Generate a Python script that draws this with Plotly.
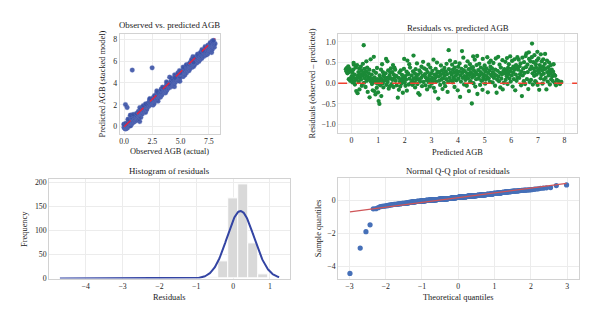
import numpy as np
import plotly.graph_objects as go
from statistics import NormalDist

# Predicted AGB from the stacked model, grouped by prediction range
pred_agb = [
    # -0.25 .. 0.25
    -0.21, -0.19, -0.17, -0.15, -0.13, -0.12, -0.10, -0.09, -0.07, -0.05, -0.04, -0.02, 0.00, 0.01, 0.03, 0.04,
    0.06, 0.07, 0.09, 0.10, 0.12, 0.13, 0.15, 0.16, 0.18, 0.19, 0.21, 0.22, 0.23, 0.24, 0.08,
    # 0.25 .. 0.75
    0.26, 0.27, 0.29, 0.30, 0.32, 0.33, 0.35, 0.36, 0.38, 0.39, 0.41, 0.43, 0.44, 0.46, 0.47, 0.49,
    0.50, 0.52, 0.53, 0.55, 0.56, 0.58, 0.59, 0.61, 0.62, 0.64, 0.65, 0.67, 0.68, 0.70, 0.72, 0.73,
    # 0.75 .. 1.25
    0.76, 0.77, 0.79, 0.80, 0.82, 0.83, 0.84, 0.86, 0.87, 0.89, 0.90, 0.92, 0.93, 0.95, 0.96, 0.97, 0.99,
    1.00, 1.02, 1.03, 1.05, 1.06, 1.08, 1.09, 1.11, 1.12, 1.14, 1.15, 1.17, 1.18, 1.20, 1.21, 1.23, 1.24,
    # 1.25 .. 1.75
    1.26, 1.28, 1.30, 1.31, 1.33, 1.35, 1.36, 1.38, 1.40, 1.41, 1.43, 1.44, 1.46, 1.48,
    1.49, 1.51, 1.53, 1.54, 1.56, 1.58, 1.59, 1.61, 1.63, 1.64, 1.66, 1.68, 1.70, 1.74,
    # 1.75 .. 2.25
    1.77, 1.78, 1.80, 1.82, 1.83, 1.85, 1.87, 1.88, 1.90, 1.92, 1.93, 1.95, 1.97, 1.98,
    2.00, 2.02, 2.03, 2.05, 2.07, 2.08, 2.10, 2.12, 2.13, 2.15, 2.17, 2.18, 2.20, 2.23,
    # 2.25 .. 2.75
    2.26, 2.28, 2.29, 2.31, 2.33, 2.34, 2.36, 2.38, 2.39, 2.41, 2.43, 2.44, 2.46, 2.48,
    2.50, 2.51, 2.53, 2.55, 2.56, 2.58, 2.60, 2.62, 2.63, 2.65, 2.67, 2.69, 2.71, 2.73,
    # 2.75 .. 3.25
    2.76, 2.78, 2.79, 2.81, 2.83, 2.84, 2.86, 2.88, 2.89, 2.91, 2.93, 2.94, 2.96, 2.98, 2.99,
    3.01, 3.03, 3.04, 3.06, 3.08, 3.09, 3.11, 3.13, 3.14, 3.16, 3.18, 3.19, 3.21, 3.22, 3.24,
    # 3.25 .. 3.75
    3.26, 3.28, 3.29, 3.31, 3.33, 3.35, 3.36, 3.38, 3.40, 3.42, 3.43, 3.45, 3.47, 3.49,
    3.50, 3.52, 3.54, 3.56, 3.57, 3.59, 3.61, 3.63, 3.65, 3.66, 3.68, 3.70, 3.72, 3.74,
    # 3.75 .. 4.25
    3.76, 3.78, 3.80, 3.81, 3.83, 3.85, 3.87, 3.88, 3.90, 3.92, 3.94, 3.95, 3.97, 3.99, 4.01,
    4.02, 4.04, 4.06, 4.08, 4.09, 4.11, 4.13, 4.15, 4.16, 4.18, 4.20, 4.21, 4.23, 4.24, 3.86,
    # 4.25 .. 4.75
    4.26, 4.28, 4.29, 4.31, 4.33, 4.35, 4.36, 4.38, 4.40, 4.41, 4.43, 4.45, 4.47, 4.48, 4.50, 4.52,
    4.53, 4.55, 4.57, 4.58, 4.60, 4.62, 4.63, 4.65, 4.67, 4.68, 4.70, 4.72, 4.73, 4.74, 4.46, 4.56,
    # 4.75 .. 5.25
    4.76, 4.78, 4.80, 4.81, 4.83, 4.85, 4.86, 4.88, 4.90, 4.92, 4.93, 4.95, 4.97, 4.98, 5.00, 5.02,
    5.03, 5.05, 5.07, 5.08, 5.10, 5.12, 5.13, 5.15, 5.17, 5.18, 5.20, 5.22, 5.23, 5.24, 4.91,
    # 5.25 .. 5.75
    5.26, 5.28, 5.30, 5.31, 5.33, 5.35, 5.37, 5.39, 5.40, 5.42, 5.44, 5.45, 5.47, 5.49,
    5.51, 5.52, 5.54, 5.56, 5.58, 5.59, 5.61, 5.63, 5.65, 5.67, 5.68, 5.70, 5.72, 5.74,
    # 5.75 .. 6.25
    5.76, 5.78, 5.79, 5.81, 5.83, 5.84, 5.86, 5.88, 5.90, 5.91, 5.93, 5.95, 5.96, 5.98, 6.00, 6.02,
    6.03, 6.05, 6.07, 6.08, 6.10, 6.12, 6.13, 6.15, 6.17, 6.18, 6.20, 6.22, 6.23, 6.24, 5.87,
    # 6.25 .. 6.75
    6.26, 6.28, 6.30, 6.31, 6.33, 6.35, 6.37, 6.38, 6.40, 6.42, 6.43, 6.45, 6.47, 6.48, 6.50,
    6.52, 6.54, 6.55, 6.57, 6.59, 6.61, 6.62, 6.64, 6.66, 6.67, 6.69, 6.71, 6.72, 6.74,
    # 6.75 .. 7.25
    6.76, 6.77, 6.78, 6.80, 6.81, 6.83, 6.84, 6.86, 6.87, 6.89, 6.90, 6.92, 6.93, 6.95, 6.96, 6.98, 6.99,
    7.01, 7.02, 7.04, 7.05, 7.07, 7.08, 7.10, 7.11, 7.13, 7.14, 7.16, 7.17, 7.19, 7.20, 7.22, 7.23, 7.24, 6.94,
    # 7.25 .. 7.90
    7.26, 7.27, 7.29, 7.30, 7.32, 7.34, 7.35, 7.37, 7.39, 7.40, 7.42, 7.44, 7.45,
    7.47, 7.49, 7.50, 7.52, 7.54, 7.55, 7.57, 7.59, 7.61, 7.63, 7.65, 7.68, 7.71,
    7.78, 7.83, 7.88,
    # poorly predicted plots
    1.75, 2.02, 5.17, 5.38,
]

# Residuals (observed - predicted), same order as pred_agb
residuals = [
    0.34, 0.29, 0.37, 0.24, 0.31, 0.41, 0.10, 0.27, 0.35, 0.06, 0.12, 0.30, 0.08, 0.17, 0.26, 0.02,
    0.14, 0.33, 0.45, 0.05, 0.21, -0.03, 0.11, 0.38, -0.19, 0.09, 0.44, 0.13, -0.24, 0.18, 0.49,

    0.27, 0.03, 0.36, -0.15, 0.14, 0.22, 0.40, 0.09, 0.31, -0.06, 0.18, 0.47, 0.25, 0.92, 0.01, 0.35,
    0.12, 0.20, -0.09, 0.29, 0.53, 0.06, 0.38, -0.21, 0.16, 0.10, 0.24, 0.33, -0.34, 0.13, 0.58, 0.04,

    0.21, -0.02, 0.11, -0.17, 0.05, 0.30, 0.64, -0.19, 0.14, 0.02, -0.27, 0.25, 0.07, -0.11, 0.37, -0.01, 0.10,
    -0.22, -0.43, 0.04, -0.50, 0.19, -0.05, 0.12, 0.33, -0.31, 0.08, 0.46, 0.00, 0.27, -0.10, 0.17, 0.22, 0.06,

    0.09, 0.24, 0.59, -0.04, 0.13, 0.53, 0.03, 0.31, -0.13, 0.11, 0.19, -0.07, 0.26, 0.36,
    0.12, -0.02, 0.27, 0.08, 0.44, -0.09, 0.21, 0.38, 0.14, 0.33, 0.06, 0.18, -0.05, -0.35,

    0.13, -0.16, 0.26, 0.04, -0.08, 0.31, 0.10, -0.01, 0.20, 0.07, -0.23, 0.12, 0.35, 0.59,
    0.02, 0.17, -0.06, 0.09, 0.28, -0.18, 0.55, 0.24, 0.22, -0.03, 0.46, 0.11, 0.38, 0.00,

    0.19, 0.06, -0.04, 0.29, 0.67, 0.12, 0.01, 0.24, -0.10, 0.34, 0.08, 0.17, 0.48, -0.02,
    0.21, -0.24, 0.10, 0.31, -0.28, 0.04, 0.26, 0.13, 0.40, -0.07, 0.18, 0.52, 0.03, 0.36,

    0.22, -0.05, 0.14, 0.33, 0.07, -0.15, 0.27, 0.11, 0.45, 0.02, 0.19, -0.08, 0.38, 0.09, 0.24,
    -0.01, 0.13, 0.30, 0.05, 0.57, -0.11, 0.21, 0.12, -0.20, 0.35, 0.04, 0.17, 0.50, 0.25, 0.28,

    -0.37, 0.16, 0.06, 0.27, -0.04, 0.20, 0.43, 0.09, 0.31, -0.14, 0.12, 0.24, 0.01, 0.37,
    0.18, -0.07, 0.29, 0.10, 0.47, 0.22, -0.21, 0.03, 0.80, 0.34, 0.13, 0.55, 0.26, 0.07,

    0.21, 0.45, 0.02, 0.33, 0.14, 0.26, -0.09, 0.38, 0.51, 0.18, 0.07, 0.30, 0.23, -0.17, 0.40,
    0.11, 0.28, 0.48, -0.33, 0.19, 0.04, 0.35, 0.78, 0.25, 0.13, 0.62, 0.32, -0.03, 0.17, 0.09,

    0.29, 0.08, 0.41, 0.16, -0.06, 0.24, 0.53, 0.12, 0.34, -0.19, 0.20, 0.46, 0.05, 0.27, 0.37, -0.49,
    0.14, 0.22, 0.65, 0.00, 0.31, 0.18, 0.57, -0.08, 0.26, 0.10, 0.44, 0.66, -0.26, 0.21, 0.03, 0.39,

    0.32, 0.11, 0.47, 0.19, -0.04, 0.27, 0.38, 0.06, 0.23, -0.16, 0.59, 0.14, 0.34, 0.20, 0.43, -0.01,
    0.29, 0.09, 0.36, 0.17, 0.63, -0.22, 0.25, 0.12, 0.50, 0.31, 0.04, 0.40, 0.55, 0.21, 0.07,

    0.18, 0.36, 0.02, 0.27, 0.49, 0.13, 0.22, -0.06, 0.33, 0.60, 0.19, -0.23, 0.09, 0.30,
    0.64, 0.16, 0.05, 0.45, 0.25, -0.10, 0.38, 0.11, 0.21, 0.56, -0.15, 0.28, 0.01, 0.34,

    0.24, 0.52, 0.08, 0.31, 0.17, 0.61, -0.02, 0.37, 0.22, 0.46, 0.12, 0.29, 0.65, 0.04, 0.35, 0.19,
    0.54, -0.08, 0.26, 0.40, 0.10, 0.58, 0.33, -0.17, 0.21, 0.44, 0.06, 0.38, 0.63, 0.14, 0.27,

    0.33, 0.57, 0.13, 0.41, 0.22, 0.48, -0.05, 0.29, -0.31, 0.62, 0.19, 0.36, 0.05, 0.51, 0.25,
    -0.02, 0.66, 0.39, 0.72, 0.10, 0.45, 0.27, -0.14, 0.75, 0.59, 0.03, 0.34, 0.53, 0.08,

    0.40, 0.63, 0.96, 0.24, -0.03, 0.51, 0.35, 0.18, 0.68, 0.29, 0.05, 0.46, 0.38, 0.21, 0.55, 0.76, -0.04,
    0.32, 0.60, 0.26, -0.16, 0.44, 0.37, 0.12, 0.70, 0.20, 0.53, 0.31, -0.01, 0.40, 0.58, 0.23, 0.09, 0.34, 0.02,

    0.47, 0.71, 0.13, 0.36, -0.15, 0.55, 0.27, 0.04, 0.39, 0.19, 0.50, 0.31, -0.03,
    0.24, 0.44, 0.10, 0.33, 0.17, 0.06, 0.28, 0.46, 0.21, 0.01, 0.18, -0.05, 0.08,
    0.05, -0.02, 0.03,

    -1.48, -1.90, -4.45, -2.90,
]

titles = ["Observed vs. predicted AGB", "Residuals vs. predicted AGB",
          "Histogram of residuals", "Normal Q-Q plot of residuals"]
x_labels = ["Observed AGB (actual)", "Predicted AGB", "Residuals", "Theoretical quantiles"]
y_labels = ["Predicted AGB (stacked model)", "Residuals (observed \u2013 predicted)",
            "Frequency", "Sample quantiles"]

N_BINS = 20
KDE_BW = 0.29

FONT = "Liberation Serif"
W, H = 600, 327

pred = np.array(pred_agb)
resid = np.array(residuals)
observed = pred + resid
n = len(resid)

# histogram of residuals
edges = np.linspace(resid.min(), resid.max(), N_BINS + 1)
counts, _ = np.histogram(resid, bins=edges)
bin_w = edges[1] - edges[0]
centers = 0.5 * (edges[:-1] + edges[1:])

# gaussian kernel density, scaled to histogram counts
grid = np.linspace(resid.min() - 0.25, resid.max() + 0.29, 400)
dens = np.exp(-0.5 * ((grid[:, None] - resid[None, :]) / KDE_BW) ** 2).sum(axis=1)
dens = dens / (n * KDE_BW * np.sqrt(2 * np.pi))
kde_counts = dens * n * bin_w

# normal probability plot (Filliben plotting positions) + least-squares line
ordered = np.sort(resid)
pp = (np.arange(1, n + 1) - 0.3175) / (n + 0.365)
pp[-1] = 0.5 ** (1.0 / n)
pp[0] = 1 - pp[-1]
theo = np.array([NormalDist().inv_cdf(p) for p in pp])
slope, intercept = np.polyfit(theo, ordered, 1)
line_x = np.array([theo.min(), theo.max()])
line_y = slope * line_x + intercept

# 1:1 reference line for observed vs predicted
lo = min(observed.min(), pred.min())
hi = max(observed.max(), pred.max())
diag = np.array([max(lo, 0.0), hi])

fig = go.Figure()

fig.add_trace(go.Scatter(x=observed, y=pred, mode="markers", xaxis="x", yaxis="y",
                         marker=dict(color="#3a52a6", size=4.8, opacity=0.9,
                                     line=dict(width=0.3, color="#6f82c4"))))
fig.add_trace(go.Scatter(x=diag, y=diag, mode="lines", xaxis="x", yaxis="y",
                         line=dict(color="#e8203e", width=1.4, dash="dash")))

fig.add_trace(go.Scatter(x=pred, y=resid, mode="markers", xaxis="x2", yaxis="y2",
                         marker=dict(color="#1b8a37", size=4.3)))

fig.add_trace(go.Bar(x=centers, y=counts, width=bin_w, xaxis="x3", yaxis="y3",
                     marker=dict(color="#d9d9d9", line=dict(color="white", width=1))))
fig.add_trace(go.Scatter(x=grid, y=kde_counts, mode="lines", xaxis="x3", yaxis="y3",
                         line=dict(color="#3344a3", width=2)))

fig.add_trace(go.Scatter(x=theo, y=ordered, mode="markers", xaxis="x4", yaxis="y4",
                         marker=dict(color="#4670b8", size=5.2)))
fig.add_trace(go.Scatter(x=line_x, y=line_y, mode="lines", xaxis="x4", yaxis="y4",
                         line=dict(color="#cf5558", width=1.4)))

# zero line on the residual panel
fig.add_shape(type="line", xref="x2 domain", yref="y2", x0=0, x1=1, y0=0, y1=0,
              line=dict(color="#f0402f", width=1.4, dash="dash"))


def px_x(p):
    return p / W


def px_y(p):
    return 1 - p / H


def axis(domain, rng, anchor, dtick, fmt=None):
    a = dict(domain=domain, range=rng, anchor=anchor, dtick=dtick, tick0=0,
             showgrid=True, gridcolor="#ececec", gridwidth=1,
             showline=True, mirror=True, linecolor="#d2d2d2", linewidth=1,
             zeroline=False, ticks="", ticklen=0,
             tickfont=dict(family=FONT, size=7.8, color="#262626"))
    if fmt:
        a["tickformat"] = fmt
    return a


# panel frames in pixels: (left, right, top, bottom)
frames = [(119, 219, 33.3, 135), (337.7, 577, 33.3, 134.3),
          (48.3, 289.3, 181.7, 282.7), (337.7, 578.7, 180.7, 282.7)]
dom = [([px_x(l), px_x(r)], [px_y(b), px_y(t)]) for l, r, t, b in frames]

fig.update_layout(
    width=W, height=H, margin=dict(l=0, r=0, t=0, b=0),
    paper_bgcolor="white", plot_bgcolor="white", showlegend=False, bargap=0,
    font=dict(family=FONT, color="#222"),
    xaxis=axis(dom[0][0], [-0.38, 8.45], "y", 2.5, ".1f"),
    yaxis=axis(dom[0][1], [-0.63, 8.5], "x", 2),
    xaxis2=axis(dom[1][0], [-0.5, 8.47], "y2", 1),
    yaxis2=axis(dom[1][1], [-1.2, 1.2], "x2", 0.5, ".1f"),
    xaxis3=axis(dom[2][0], [-4.99, 1.54], "y3", 1),
    yaxis3=axis(dom[2][1], [0, 207], "x3", 50),
    xaxis4=axis(dom[3][0], [-3.31, 3.32], "y4", 1),
    yaxis4=axis(dom[3][1], [-4.76, 1.36], "x4", 2),
)

title_y = [24.3, 27.7, 172.7, 172.7]
xlab_y = [153, 154, 301.7, 301.7]
ylab_x = [102, 311.7, 24, 318.3]

ann = []
for i, (l, r, t, b) in enumerate(frames):
    cx = (l + r) / 2
    cy = (t + b) / 2
    ann.append(dict(text=titles[i], x=px_x(cx), y=px_y(title_y[i]), xref="paper", yref="paper",
                    showarrow=False, xanchor="center", yanchor="middle",
                    font=dict(family=FONT, size=8.8, color="#1a1a1a")))
    ann.append(dict(text=x_labels[i], x=px_x(cx), y=px_y(xlab_y[i]), xref="paper", yref="paper",
                    showarrow=False, xanchor="center", yanchor="middle",
                    font=dict(family=FONT, size=8.4, color="#1a1a1a")))
    ann.append(dict(text=y_labels[i], x=px_x(ylab_x[i]), y=px_y(cy), xref="paper", yref="paper",
                    showarrow=False, xanchor="center", yanchor="middle", textangle=-90,
                    font=dict(family=FONT, size=8.4, color="#1a1a1a")))
fig.update_layout(annotations=ann)

fig.write_html("out.html")
